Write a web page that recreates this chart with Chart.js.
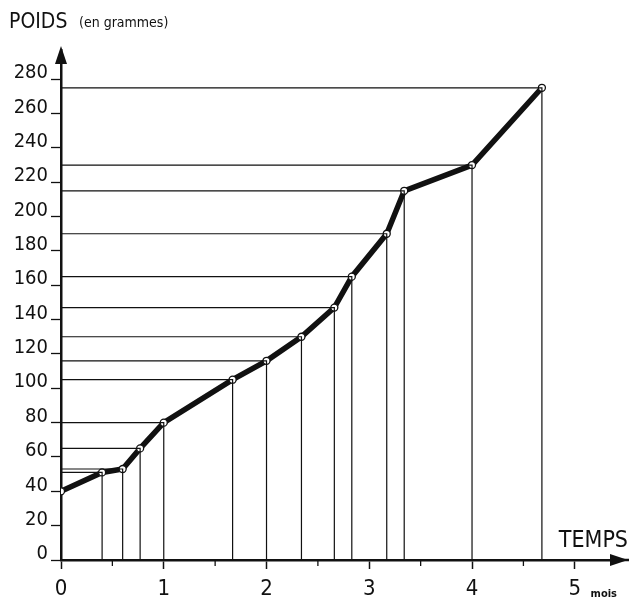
<!DOCTYPE html>
<html>
<head>
<meta charset="utf-8">
<script src="https://cdn.jsdelivr.net/npm/chart.js@4/dist/chart.umd.min.js"></script>
<style>
  body { margin: 0; background: #fff; }
  #wrap { width: 629px; height: 599px; position: relative; }
</style>
</head>
<body>
<div id="wrap"><canvas id="myChart"></canvas></div>
<script>
// values
const months = [0, 0.4, 0.6, 0.77, 1, 1.67, 2, 2.34, 2.66, 2.83, 3.17, 3.34, 4, 4.68];
const weights = [40, 51, 53, 65, 80, 105, 116, 130, 147, 165, 190, 215, 230, 275];
const yTicks = [0, 20, 40, 60, 80, 100, 120, 140, 160, 180, 200, 220, 240, 260, 280];
const xTicks = [0, 1, 2, 3, 4, 5];

const ctx = document.getElementById("myChart").getContext("2d");
const ink = "#111";
const tickFont = "DejaVu Sans Condensed";

// one thin dataset per point: from the y axis to the point, down to the x axis
let dropSets = [];
for (let i = 1; i < months.length; i++) {
  dropSets.push({
    data: [
      { x: 0, y: weights[i] },
      { x: months[i], y: weights[i] },
      { x: months[i], y: 0 },
    ],
    showLine: true,
    borderColor: ink,
    borderWidth: 1.2,
    pointRadius: 0,
    tension: 0,
  });
}

const curve = {
  data: months.map((m, i) => ({ x: m, y: weights[i] })),
  showLine: true,
  borderColor: ink,
  borderWidth: 5.5,
  pointRadius: 3.5,
  pointBackgroundColor: "#fff",
  pointBorderColor: ink,
  pointBorderWidth: 1.3,
  tension: 0,
};

const decorations = {
  id: "decorations",
  afterDraw(chart) {
    const c = chart.ctx;
    const area = chart.chartArea;
    const xs = chart.scales.x;
    c.save();
    c.fillStyle = ink;
    c.strokeStyle = ink;

    // arrow heads
    c.beginPath();
    c.moveTo(area.left, 46);
    c.lineTo(area.left - 6, 64);
    c.lineTo(area.left + 6, 64);
    c.closePath();
    c.fill();
    c.fillRect(area.left - 1.25, 60, 2.5, area.top - 60 + 2);

    c.beginPath();
    c.moveTo(628, area.bottom);
    c.lineTo(610, area.bottom - 6);
    c.lineTo(610, area.bottom + 6);
    c.closePath();
    c.fill();
    c.fillRect(area.right - 2, area.bottom - 1.25, 14, 2.5);

    // half-month ticks
    c.lineWidth = 1.3;
    for (let m = 0.5; m < 5; m += 1) {
      const px = xs.getPixelForValue(m);
      c.beginPath();
      c.moveTo(px, area.bottom);
      c.lineTo(px, area.bottom + 6);
      c.stroke();
    }

    // texts
    c.textBaseline = "alphabetic";
    c.textAlign = "left";
    c.font = "21px " + tickFont;
    c.fillText("POIDS", 9, 28);
    c.font = "14px " + tickFont;
    c.fillText("(en grammes)", 79, 27);
    c.font = "23px " + tickFont;
    c.textAlign = "right";
    c.fillText("TEMPS", 628, 547);
    c.font = "bold 11px " + tickFont;
    c.fillText("mois", 617, 597);
    c.restore();
  },
};

new Chart(ctx, {
  type: "scatter",
  plugins: [decorations],
  data: { datasets: [...dropSets, curve] },
  options: {
    responsive: true,
    maintainAspectRatio: false,
    animation: false,
    layout: { padding: { top: 50, right: 9, left: 0, bottom: 0 } },
    plugins: {
      legend: { display: false },
      tooltip: { enabled: false },
    },
    scales: {
      x: {
        type: "linear",
        min: 0,
        max: 5.44,
        afterFit: (s) => { s.height = 39; },
        afterBuildTicks: (s) => { s.ticks = xTicks.map((v) => ({ value: v })); },
        border: { display: true, color: ink, width: 2.5 },
        grid: { display: true, drawOnChartArea: false, tickLength: 9, tickColor: ink, tickWidth: 1.5 },
        ticks: {
          color: ink,
          padding: 7,
          font: { family: tickFont, size: 22 },
          maxRotation: 0,
        },
      },
      y: {
        type: "linear",
        min: 0,
        max: 297,
        afterFit: (s) => { s.width = 61; },
        afterBuildTicks: (s) => { s.ticks = yTicks.map((v) => ({ value: v })); },
        border: { display: true, color: ink, width: 2.5 },
        grid: { display: true, drawOnChartArea: false, tickLength: 10, tickColor: ink, tickWidth: 1.3 },
        ticks: {
          color: ink,
          padding: 3,
          labelOffset: -6,
          font: { family: tickFont, size: 20 },
        },
      },
    },
  },
});
</script>
</body>
</html>
